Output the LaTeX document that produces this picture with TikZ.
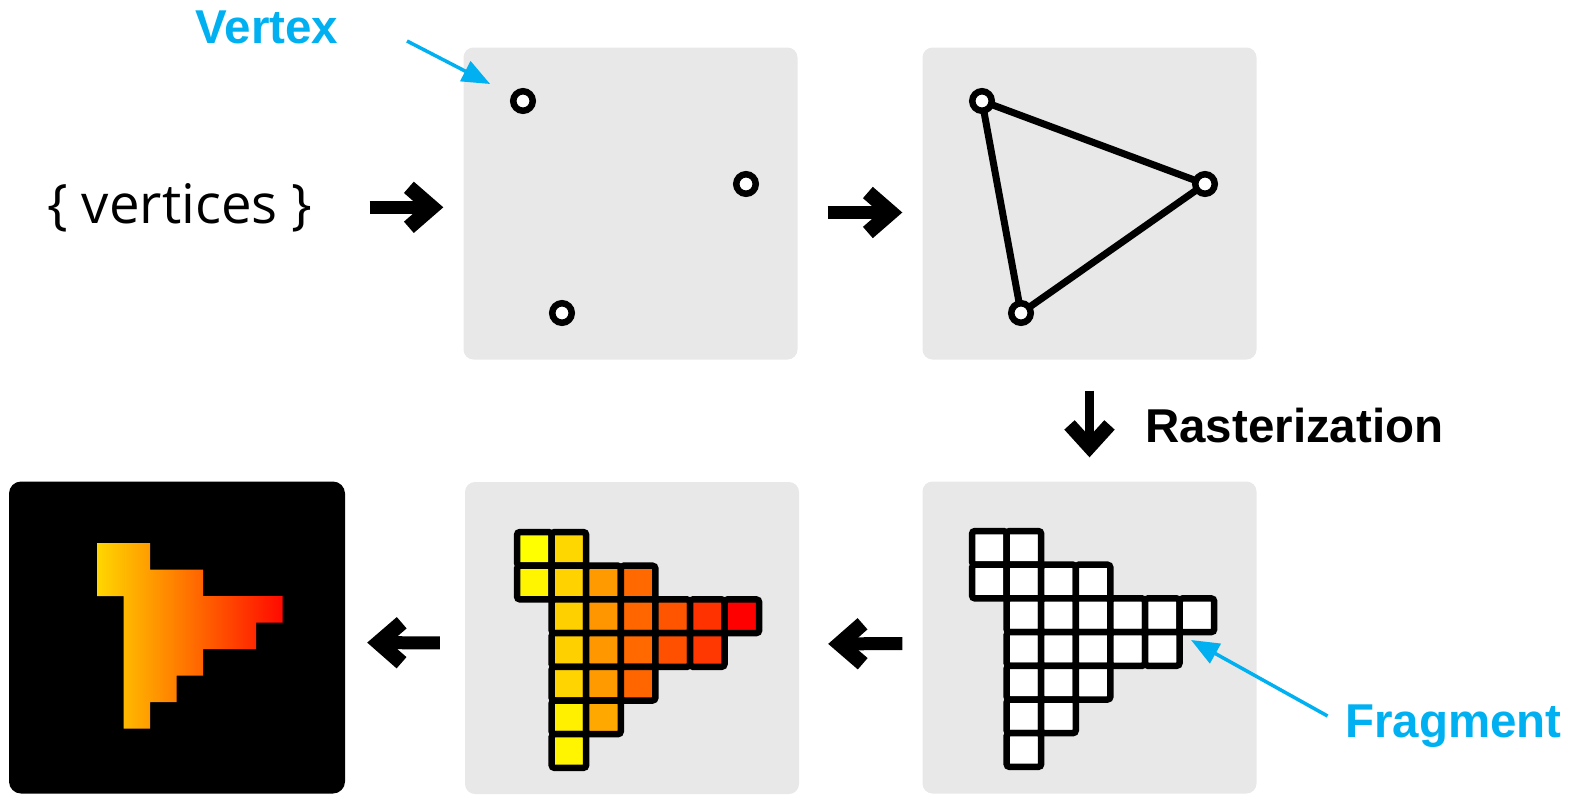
\documentclass[tikz,border=0pt]{standalone}
\usepackage{fontspec}
\setmainfont{Liberation Sans}
\newfontfamily\setfont{Open Sans}
\usetikzlibrary{arrows.meta, positioning, calc}

\definecolor{panelgray}{HTML}{E8E8E8}
\definecolor{callout}{HTML}{00B0F0}

\begin{document}
\begin{tikzpicture}[x=1pt, y=-1pt,
  panel/.style={fill=panelgray, rounded corners=10pt, minimum width=334pt, minimum height=312pt, inner sep=0pt},
  vtx/.style={circle, draw, fill=white, line width=6.5pt, minimum size=19.5pt, inner sep=0pt},
  edge/.style={line width=7pt},
  cell/.style={draw, line width=6.5pt, rounded corners=3pt},
  bigarrow/.style={line width=13pt, -{Straight Barb[sharp, length=23pt, width=40pt, line width=15pt]}},
  downarrow/.style={line width=9pt, -{Straight Barb[sharp, length=22pt, width=40pt, line width=14pt]}},
  callarrow/.style={callout, line width=3.5pt, -{Triangle[length=28pt, width=22pt]}},
  lbl/.style={inner sep=0pt, font=\fontsize{47.5}{56}\selectfont\bfseries}]

\useasboundingbox (0,0) rectangle (1579,796);

\node[panel] (pts) at (630.5,203.5) {};
\node[panel] (tri) at (1089.5,203.5) {};
\node[panel] (frag) at (1089.5,637.5) {};
\node[panel] (shade) at (632,638) {};
\node[panel, fill=black, minimum width=336pt, rounded corners=12pt] (img) at (177,637.5) {};

\node[inner sep=0pt, anchor=base west, font=\setfont\fontsize{54.5}{66}\selectfont] (vlist) at (47,223) {\{ vertices \}};
\node[lbl, callout, anchor=base] (vlbl) at (267,43) {Vertex};
\node[lbl, anchor=base west] (raster) at (1145,442) {Rasterization};
\node[lbl, callout, anchor=base west] (fraglbl) at (1345,737) {Fragment};

\node[vtx] (p1) at (523,101) {};
\node[vtx] (p2) at (746,184) {};
\node[vtx] (p3) at (562,313) {};

\coordinate (t1) at (982,101);
\coordinate (t2) at (1205,184);
\coordinate (t3) at (1021,313);
\draw[edge] (t1) -- (t2) -- (t3) -- cycle;
\node[vtx] at (t1) {};
\node[vtx] at (t2) {};
\node[vtx] at (t3) {};

\foreach \c/\r/\g in {0/0/255, 1/0/215, 0/1/245, 1/1/210, 2/1/155, 3/1/105,
    1/2/208, 2/2/150, 3/2/102, 4/2/85, 5/2/50, 6/2/0,
    1/3/208, 2/3/152, 3/3/105, 4/3/80, 5/3/55,
    1/4/212, 2/4/155, 3/4/102, 1/5/240, 2/5/168, 1/6/245} {
  \draw[cell, fill=white] (972+\c*34.6, 531+\r*33.7) rectangle ++(34.6,33.7);
  \draw[cell, fill={rgb,255:red,255;green,\g;blue,0}] (517+\c*34.6, 532+\r*33.7) rectangle ++(34.6,33.7);
}

\begin{scope}[shift={(97,543)}, x=26.5pt, y=-26.5pt]
  \shade[left color={rgb,255:red,255;green,214;blue,0}, right color={rgb,255:red,255;green,10;blue,0},
    middle color={rgb,255:red,255;green,112;blue,0}]
    (0,0) -- (2,0) -- (2,1) -- (4,1) -- (4,2) -- (7,2) -- (7,3) -- (6,3) -- (6,4) -- (4,4)
    -- (4,5) -- (3,5) -- (3,6) -- (2,6) -- (2,7) -- (1,7) -- (1,2) -- (0,2) -- cycle;
\end{scope}

\draw[bigarrow, shorten <=57pt, shorten >=20pt] (vlist.east) -- (vlist.east -| pts.west);
\draw[bigarrow, shorten <=30pt, shorten >=20pt] ([yshift=-9pt]pts.east) -- ([yshift=-9pt]tri.west);
\draw[downarrow, shorten <=31pt, shorten >=24pt] (tri.south) -- (frag.north);
\draw[bigarrow, shorten <=20pt, shorten >=29pt] ([yshift=-6pt]frag.west) -- ([yshift=-6pt]shade.east);
\draw[bigarrow, shorten <=25pt, shorten >=22pt] ([yshift=-5pt]shade.west) -- ([yshift=-5pt]img.east);

\coordinate (vtail) at (407,41);
\draw[callarrow, shorten >=24pt] (vtail) -- (p1);
\coordinate (fragtip) at (1191,640);
\draw[callarrow, shorten <=20pt] (fraglbl.west) -- (fragtip);
\end{tikzpicture}
\end{document}
